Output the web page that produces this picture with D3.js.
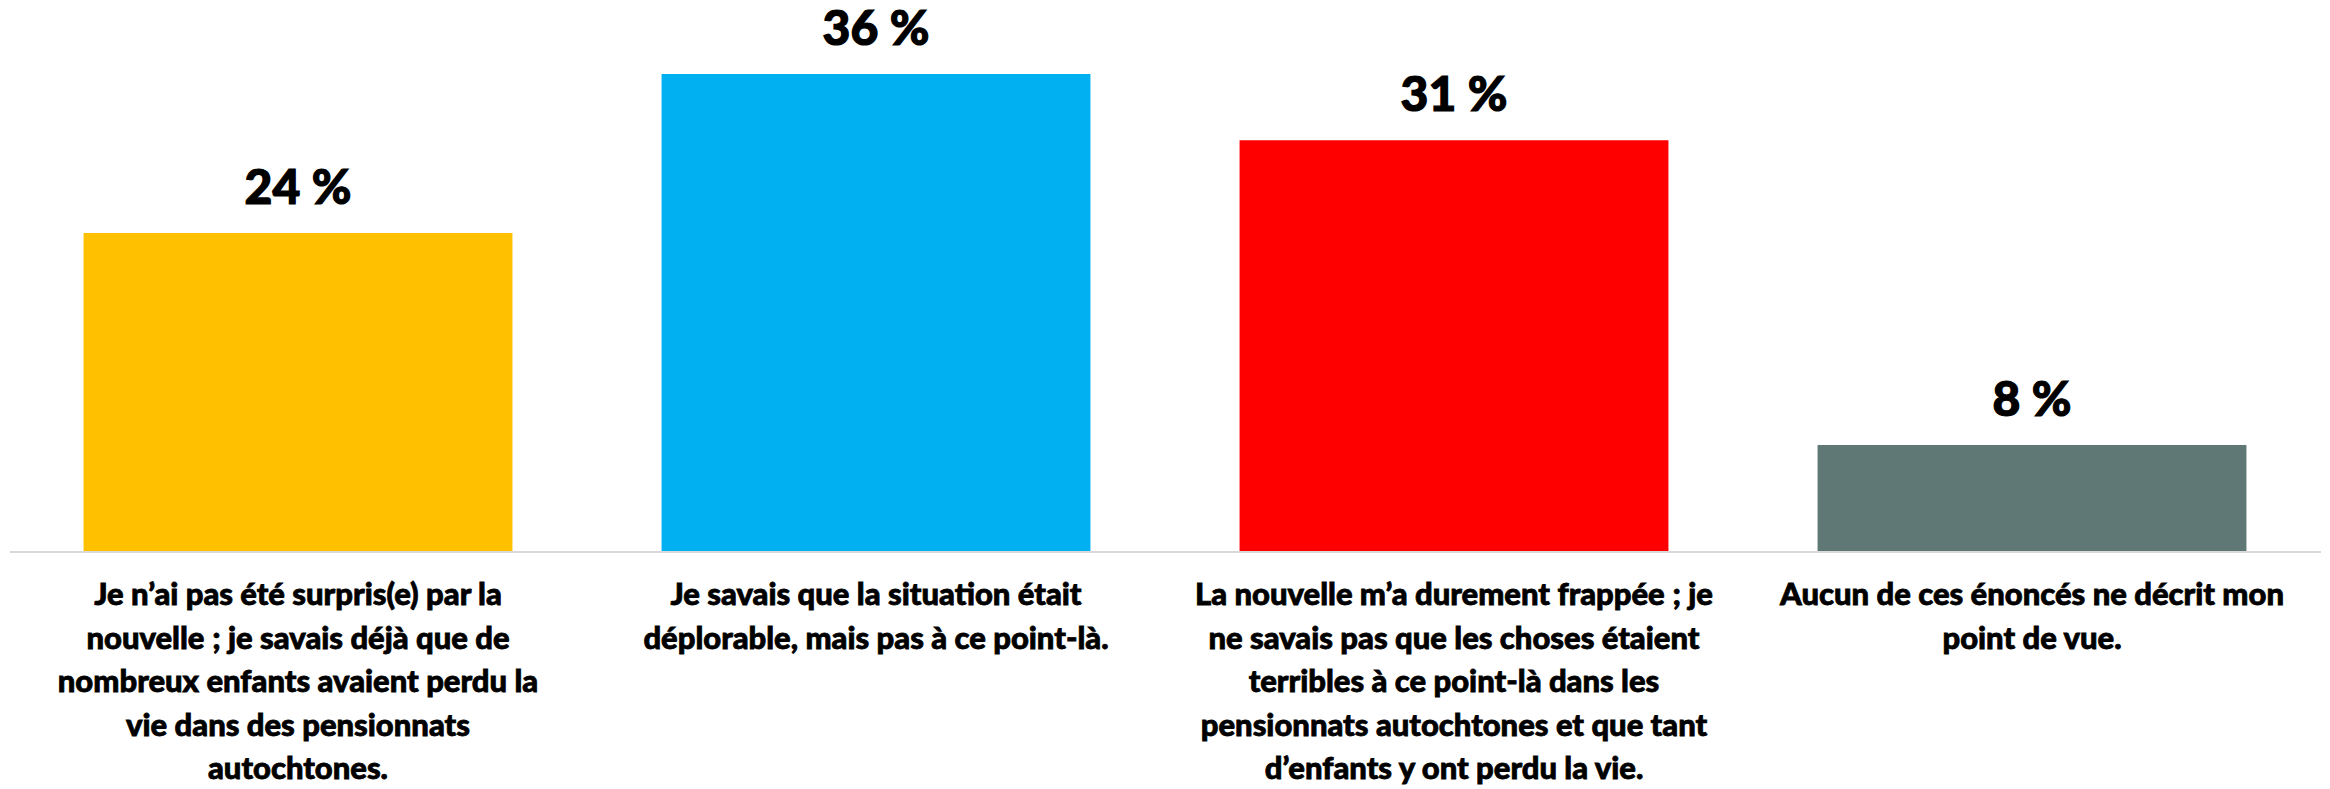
<!DOCTYPE html>
<html lang="fr">
<head>
  <meta charset="UTF-8">
  <title>Réaction à la nouvelle</title>
  <style>
    body {
      margin: 0;
      background: #fff;
      overflow: hidden;
    }
    svg {
      display: block;
    }
    .value-label {
      font-family: Lato, "Liberation Sans", sans-serif;
      font-weight: 900;
      font-size: 48px;
      fill: #000;
      stroke: #000;
      stroke-width: 1.2px;
    }
    .cat-label {
      font-family: Lato, "Liberation Sans", sans-serif;
      font-weight: 900;
      font-size: 31px;
      fill: #000;
      stroke: #000;
      stroke-width: 0.8px;
    }
  </style>
</head>
<body>
<div id="chart"></div>

<script src="https://d3js.org/d3.v7.min.js"></script>
<script>
// data
const categories = ["surpris", "deplorable", "frappee", "aucun"];
const values = [24, 36, 31, 8];
const colors = ["#FFC000", "#00B0F0", "#FF0000", "#607875"];
const categoryLines = [
  ["Je n\u2019ai pas été surpris(e) par la", "nouvelle\u202F; je savais déjà que de", "nombreux enfants avaient perdu la", "vie dans des pensionnats", "autochtones."],
  ["Je savais que la situation était", "déplorable, mais pas à ce point-là."],
  ["La nouvelle m\u2019a durement frappée\u202F; je", "ne savais pas que les choses étaient", "terribles à ce point-là dans les", "pensionnats autochtones et que tant", "d\u2019enfants y ont perdu la vie."],
  ["Aucun de ces énoncés ne décrit mon", "point de vue."]
];

const width = 2330;
const height = 789;
const baseline = 551;

const svg = d3.select('#chart')
    .append('svg')
    .attr('width', width)
    .attr('height', height);

const x = d3.scaleBand()
    .domain(categories)
    .range([9, 2321])
    .paddingInner(0.258)
    .paddingOuter(0.129);

const y = d3.scaleLinear()
    .domain([0, 36])
    .range([baseline, 74]);

// bars
svg.selectAll('.bar')
    .data(values)
    .enter().append('rect')
    .attr('class', 'bar')
    .attr('x', (d, i) => x(categories[i]))
    .attr('y', d => y(d))
    .attr('width', x.bandwidth())
    .attr('height', d => baseline - y(d))
    .style('fill', (d, i) => colors[i]);

// axis line
svg.append('line')
    .attr('x1', 10)
    .attr('x2', 2321)
    .attr('y1', baseline + 1)
    .attr('y2', baseline + 1)
    .style('stroke', '#d9d9d9')
    .style('stroke-width', 2);

// value labels
svg.selectAll('.value-label')
    .data(values)
    .enter().append('text')
    .attr('class', 'value-label')
    .attr('x', (d, i) => x(categories[i]) + x.bandwidth() / 2)
    .attr('y', d => y(d) - 29)
    .attr('text-anchor', 'middle')
    .text(d => d + '\u00A0%');

// category labels
const lineHeight = 43.5;
categoryLines.forEach((lines, i) => {
    const cx = x(categories[i]) + x.bandwidth() / 2;
    const t = svg.append('text')
        .attr('class', 'cat-label')
        .attr('text-anchor', 'middle');
    lines.forEach((ln, j) => {
        t.append('tspan')
            .attr('x', cx)
            .attr('y', 605 + j * lineHeight)
            .text(ln);
    });
});
</script>
</body>
</html>
